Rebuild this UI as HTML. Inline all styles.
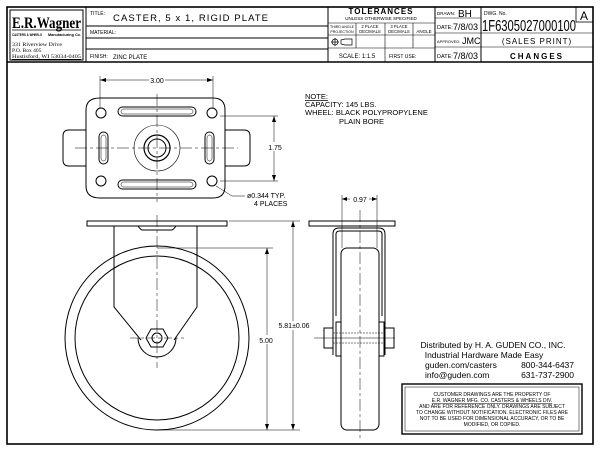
<!DOCTYPE html>
<html><head><meta charset="utf-8"><style>
html,body{margin:0;padding:0;background:#fff}
svg{display:block}
text{font-family:"Liberation Sans",sans-serif;fill:#000}
</style></head><body>
<svg width="600" height="453" viewBox="0 0 600 453" xmlns="http://www.w3.org/2000/svg">
<rect x="0" y="0" width="600" height="453" fill="#fff"/>
<g fill="none" stroke="#000">
<rect x="7" y="7" width="586" height="437" stroke-width="1.6"/>
<line x1="7" y1="62" x2="593" y2="62" stroke-width="1.4"/>
<line x1="86" y1="7" x2="86" y2="62"/>
<rect x="10" y="10" width="73" height="50" stroke-width="1"/>
<line x1="86" y1="26" x2="328" y2="26"/>
<line x1="86" y1="38" x2="328" y2="38"/>
<line x1="86" y1="49" x2="328" y2="49"/>
<line x1="328" y1="7" x2="328" y2="62"/>
<line x1="328" y1="23" x2="435" y2="23" stroke-width="0.6"/>
<line x1="328" y1="35" x2="435" y2="35" stroke-width="0.6"/>
<line x1="328" y1="48" x2="435" y2="48" stroke-width="0.6"/>
<line x1="356" y1="23" x2="356" y2="48" stroke-width="0.6"/>
<line x1="385" y1="23" x2="385" y2="48" stroke-width="0.6"/>
<line x1="413" y1="23" x2="413" y2="48" stroke-width="0.6"/>
<line x1="385" y1="48" x2="385" y2="62" stroke-width="0.6"/>
<line x1="435" y1="7" x2="435" y2="62"/>
<line x1="435" y1="18" x2="481" y2="18" stroke-width="0.6"/>
<line x1="435" y1="33" x2="593" y2="33" stroke-width="0.6"/>
<line x1="435" y1="47" x2="593" y2="47" stroke-width="0.6"/>
<line x1="481" y1="7" x2="481" y2="62"/>
<rect x="576" y="7" width="17" height="15" stroke-width="0.8"/>
</g>
<text x="12" y="28" font-size="16" font-weight="bold" textLength="69" lengthAdjust="spacingAndGlyphs" style="font-family:'Liberation Serif',serif">E.R.Wagner</text>
<line x1="12" y1="30" x2="81" y2="30" stroke="#000" stroke-width="0.8"/>
<text x="12" y="36" font-size="4" font-weight="bold" textLength="30" lengthAdjust="spacingAndGlyphs">CASTERS &amp; WHEELS</text>
<text x="48" y="36" font-size="4" font-weight="bold" textLength="33" lengthAdjust="spacingAndGlyphs">Manufacturing Co.</text>
<text x="12" y="46" font-size="5.5" textLength="50" lengthAdjust="spacingAndGlyphs" style="font-family:'Liberation Serif',serif">331 Riverview Drive</text>
<text x="12" y="52" font-size="5.5" style="font-family:'Liberation Serif',serif">P.O. Box 405</text>
<text x="12" y="58" font-size="5.5" textLength="69" lengthAdjust="spacingAndGlyphs" style="font-family:'Liberation Serif',serif" text-decoration="underline">Hustisford, WI 53034-0405</text>
<text x="90" y="15" font-size="5">TITLE:</text>
<text x="113" y="21" font-size="9.5" textLength="155" lengthAdjust="spacing">CASTER,  5  x  1,  RIGID  PLATE</text>
<text x="90" y="34" font-size="5">MATERIAL:</text>
<text x="90" y="58" font-size="5">FINISH:</text>
<text x="113" y="59" font-size="6">ZINC  PLATE</text>
<text x="381" y="14" font-size="8" font-weight="bold" text-anchor="middle" letter-spacing="1">TOLERANCES</text>
<text x="381" y="20" font-size="4.5" text-anchor="middle">UNLESS OTHERWISE SPECIFIED</text>
<text x="342" y="28" font-size="3.6" text-anchor="middle">THIRD ANGLE</text>
<text x="342" y="33" font-size="3.6" text-anchor="middle">PROJECTION</text>
<text x="370" y="28" font-size="4.2" text-anchor="middle">2 PLACE</text>
<text x="370" y="33" font-size="4.2" text-anchor="middle">DECIMALS</text>
<text x="399" y="28" font-size="4.2" text-anchor="middle">3 PLACE</text>
<text x="399" y="33" font-size="4.2" text-anchor="middle">DECIMALS</text>
<text x="424" y="33" font-size="4.5" text-anchor="middle">ANGLE</text>
<g fill="none" stroke="#000" stroke-width="0.7"><circle cx="335" cy="42" r="3"/><line x1="331" y1="42" x2="339" y2="42"/><line x1="335" y1="38" x2="335" y2="46"/><path d="M341 40 L345 39 L352 39 L352 45 L345 45 L341 44 Z"/></g>
<text x="357" y="58" font-size="6" text-anchor="middle">SCALE: 1:1.5</text>
<text x="389" y="58" font-size="5">FIRST USE:</text>
<text x="437" y="15" font-size="4.5">DRAWN:</text><text x="458" y="17" font-size="10">BH</text>
<text x="437" y="29" font-size="5.5">DATE:</text><text x="453" y="30" font-size="9">7/8/03</text>
<text x="437" y="43" font-size="4">APPROVED:</text><text x="462" y="44" font-size="9">JMC</text>
<text x="437" y="58" font-size="5.5">DATE:</text><text x="453" y="59" font-size="9">7/8/03</text>
<text x="484" y="15" font-size="5">DWG. No.</text>
<text x="482" y="31" font-size="16" textLength="94" lengthAdjust="spacingAndGlyphs">1F6305027000100</text>
<text x="584" y="20" font-size="12" text-anchor="middle">A</text>
<text x="537" y="44" font-size="8" text-anchor="middle" letter-spacing="1">(SALES  PRINT)</text>
<text x="537" y="59" font-size="8" font-weight="bold" text-anchor="middle" letter-spacing="2">CHANGES</text>

<g fill="none" stroke="#000" stroke-width="1">
<path d="M63 136 Q63 130 69 130 L86 130 L86 166 L69 166 Q63 166 63 160 Z"/>
<path d="M225 130 L244 130 Q250 130 250 136 L250 160 Q250 166 244 166 L225 166"/>
<path d="M100 98 L213 98 Q225 98 225 110 L225 186 Q225 198 213 198 L100 198 Q86 198 86 186 L86 110 Q86 98 100 98 Z"/>
<circle cx="101" cy="113" r="5"/><circle cx="212" cy="113" r="5"/><circle cx="101" cy="181" r="5"/><circle cx="212" cy="181" r="5"/>
<rect x="118" y="107" width="78" height="9" rx="4.5"/><rect x="121" y="109" width="72" height="5" rx="2.5" stroke-width="0.5"/>
<rect x="118" y="180" width="78" height="9" rx="4.5"/><rect x="121" y="182" width="72" height="5" rx="2.5" stroke-width="0.5"/>
<rect x="99" y="132" width="9" height="32" rx="4.5"/><rect x="101" y="135" width="5" height="26" rx="2.5" stroke-width="0.5"/>
<rect x="205" y="132" width="9" height="32" rx="4.5"/><rect x="207" y="135" width="5" height="26" rx="2.5" stroke-width="0.5"/>
<circle cx="157" cy="148" r="23" stroke-width="0.6"/>
<circle cx="157" cy="148" r="13" stroke-width="1.2"/>
<circle cx="157" cy="148" r="9"/>
</g>
<g stroke="#000" stroke-width="0.5" fill="none">
<line x1="75" y1="148" x2="238" y2="148" stroke-dasharray="12 3 3 3"/>
<line x1="157" y1="94" x2="157" y2="202" stroke-dasharray="12 3 3 3"/>
<line x1="100" y1="76" x2="100" y2="108"/><line x1="213" y1="76" x2="213" y2="108"/>
<line x1="100" y1="80" x2="213" y2="80"/>
<line x1="220" y1="116" x2="278" y2="116"/><line x1="220" y1="181" x2="278" y2="181"/>
<line x1="274" y1="116" x2="274" y2="181"/>
<path d="M216 186 L232 196 L245 196"/>
</g>
<g fill="#000"><path d="M100 80 l6 -2 v4z"/><path d="M213 80 l-6 -2 v4z"/><path d="M274 116 l-2 6 h4z"/><path d="M274 181 l-2 -6 h4z"/></g>
<rect x="149" y="76" width="16" height="8" fill="#fff"/>
<text x="157" y="83" font-size="7" text-anchor="middle">3.00</text>
<rect x="265" y="142" width="18" height="9" fill="#fff"/>
<text x="275" y="150" font-size="7" text-anchor="middle">1.75</text>
<text x="247" y="198" font-size="7">ø0.344 TYP.</text>
<text x="254" y="206" font-size="7">4 PLACES</text>

<text x="305" y="99" font-size="7.5" text-decoration="underline">NOTE:</text>
<text x="305" y="107" font-size="7.5">CAPACITY:  145  LBS.</text>
<text x="305" y="115" font-size="7.5">WHEEL:  BLACK  POLYPROPYLENE</text>
<text x="339" y="124" font-size="7.5">PLAIN  BORE</text>

<g fill="none" stroke="#000" stroke-width="1">
<rect x="87" y="221" width="140" height="5"/>
<path d="M138 226 q2 3 4 4 h30 q2 -1 4 -4"/>
<circle cx="157" cy="338" r="92"/>
<circle cx="157" cy="338" r="82"/>
<path d="M114 226 L114 307 L141 340 M197 226 L197 307 L174 340"/>
<path d="M138 338 A19 19 0 0 0 176 338" />
<polygon points="151,329 163,329 168,338 163,347 151,347 146,338"/>
<circle cx="157" cy="338" r="5"/>
</g>
<g stroke="#000" stroke-width="0.5" fill="none">
<line x1="157" y1="215" x2="157" y2="368" stroke-dasharray="12 3 3 3"/>
<line x1="130" y1="338" x2="184" y2="338" stroke-dasharray="8 3 3 3"/>
<line x1="157" y1="248" x2="273" y2="248"/><line x1="157" y1="430" x2="300" y2="430"/>
<line x1="229" y1="221" x2="300" y2="221"/>
<line x1="267" y1="248" x2="267" y2="430"/>
<line x1="293" y1="221" x2="293" y2="430"/>
</g>
<g fill="#000"><path d="M267 248 l-2 6 h4z"/><path d="M267 430 l-2 -6 h4z"/><path d="M293 221 l-2 6 h4z"/><path d="M293 430 l-2 -6 h4z"/></g>
<rect x="256" y="335" width="18" height="9" fill="#fff"/>
<text x="266" y="343" font-size="7" text-anchor="middle">5.00</text>
<rect x="275" y="321" width="38" height="9" fill="#fff"/>
<text x="294" y="328" font-size="7" text-anchor="middle">5.81±0.06</text>

<g fill="none" stroke="#000" stroke-width="1">
<rect x="309" y="221" width="86" height="5"/>
<path d="M333 355 L333 234 Q333 228 339 228 L379 228 Q385 228 385 234 L385 355"/>
<path d="M336 316 L336 234 Q336 231 340 231 L378 231 Q382 231 382 234 L382 316"/>
<rect x="341" y="248" width="38" height="182" rx="6"/>
<rect x="336" y="322" width="5" height="34"/><rect x="379" y="322" width="5" height="34"/>
<rect x="324" y="328" width="9" height="20"/><rect x="385" y="328" width="9" height="20"/>
</g>
<g stroke="#000" stroke-width="0.5" fill="none">
<line x1="360" y1="210" x2="360" y2="440" stroke-dasharray="12 3 3 3"/>
<line x1="314" y1="338" x2="395" y2="338"/>
<line x1="333" y1="333" x2="385" y2="333" stroke-dasharray="2 1"/><line x1="333" y1="343" x2="385" y2="343" stroke-dasharray="2 1"/>
<line x1="342" y1="195" x2="342" y2="248"/><line x1="377" y1="195" x2="377" y2="248"/>
<line x1="342" y1="199" x2="377" y2="199"/>
</g>
<g fill="#000"><path d="M342 199 l5 -2 v4z"/><path d="M377 199 l-5 -2 v4z"/></g>
<rect x="350" y="195" width="19" height="8" fill="#fff"/>
<text x="360" y="202" font-size="7" text-anchor="middle">0.97</text>

<text x="493" y="348" font-size="8.5" text-anchor="middle">Distributed by    H. A. GUDEN CO., INC.</text>
<text x="484" y="358" font-size="8.5" text-anchor="middle">Industrial Hardware Made Easy</text>
<text x="425" y="368" font-size="8.5">guden.com/casters</text>
<text x="574" y="368" font-size="8.5" text-anchor="end">800-344-6437</text>
<text x="425" y="378" font-size="8.5">info@guden.com</text>
<text x="574" y="378" font-size="8.5" text-anchor="end">631-737-2900</text>
<rect x="402" y="384" width="180" height="50" fill="none" stroke="#000" stroke-width="1.4"/>
<rect x="405" y="387" width="174" height="44" fill="none" stroke="#000" stroke-width="0.5"/>
<g font-size="5" text-anchor="middle">
<text x="492" y="396">CUSTOMER DRAWINGS ARE THE PROPERTY OF</text>
<text x="492" y="402" text-decoration="underline">E.R. WAGNER MFG. CO. CASTERS &amp; WHEELS DIV.</text>
<text x="492" y="408">AND ARE FOR REFERENCE ONLY. DRAWINGS ARE SUBJECT</text>
<text x="492" y="414">TO CHANGE WITHOUT NOTIFICATION. ELECTRONIC FILES ARE</text>
<text x="492" y="420">NOT TO BE USED FOR DIMENSIONAL ACCURACY, OR TO BE</text>
<text x="492" y="426">MODIFIED, OR COPIED.</text>
</g>
</svg>
</body></html>
